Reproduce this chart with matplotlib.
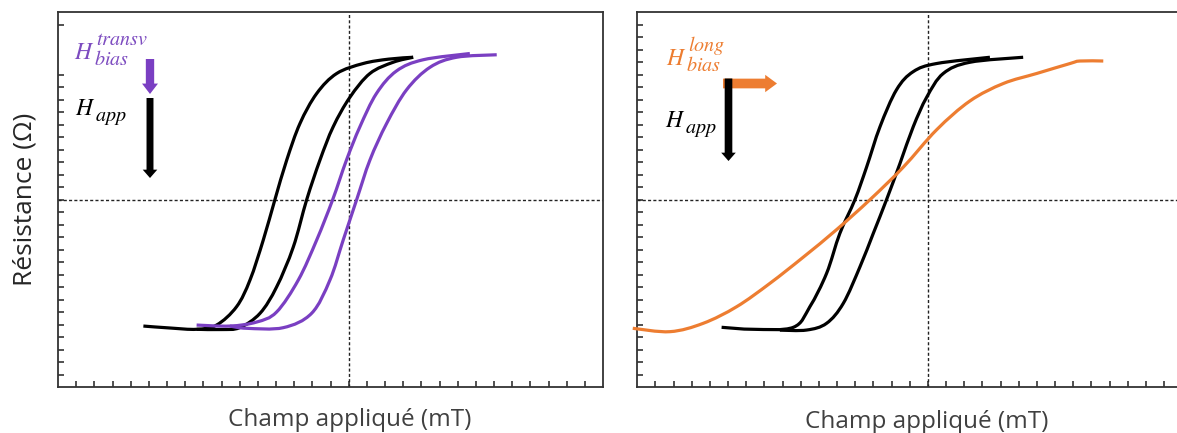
import matplotlib
matplotlib.use("Agg")
import matplotlib.pyplot as plt
from matplotlib.patches import FancyArrowPatch, PathPatch
from matplotlib.path import Path
import matplotlib.ticker as mticker
import numpy as np

# ---------------- data (axis units: 0..30 on both axes) ----------------
# Left panel: transverse bias
blk_left_a_x = [4.70, 6.2, 7.63, 8.73, 9.83, 10.57, 11.30, 11.94, 12.59, 13.32, 14.24, 15.34, 16.80, 18.2, 19.55]
blk_left_a_y = [4.88, 4.72, 4.62, 4.96, 6.43, 8.57, 11.77, 15.0, 18.17, 21.1, 23.5, 25.1, 25.9, 26.25, 26.4]
blk_left_b_x = [7.63, 9.0, 10.0, 11.12, 12.03, 12.95, 13.69, 14.42, 15.15, 16.07, 17.17, 18.45, 19.55]
blk_left_b_y = [4.62, 4.6, 4.75, 5.9, 8.0, 11.2, 15.0, 18.17, 20.84, 23.2, 25.1, 26.0, 26.4]
pur_left_a_x = [7.63, 9.46, 10.93, 12.03, 13.23, 14.24, 15.12, 15.88, 16.62, 17.53, 18.63, 20.1, 22.67]
pur_left_a_y = [4.96, 4.88, 5.2, 6.0, 8.57, 11.77, 15.0, 18.17, 20.84, 23.5, 25.3, 26.2, 26.7]
pur_left_b_x = [9.46, 10.38, 12.4, 13.96, 14.97, 15.7, 16.44, 17.17, 18.09, 19.19, 20.48, 21.94, 24.15]
pur_left_b_y = [4.88, 4.7, 4.75, 5.9, 8.57, 11.77, 15.0, 18.17, 21.1, 23.8, 25.6, 26.4, 26.6]

# Right panel: longitudinal bias
blk_right_a_x = [4.64, 6.39, 8.59, 9.50, 10.42, 11.15, 11.98, 12.62, 13.36, 14.27, 15.19, 16.48, 19.41]
blk_right_a_y = [4.78, 4.62, 4.78, 6.43, 9.1, 12.3, 15.0, 17.6, 20.84, 23.8, 25.25, 25.9, 26.4]
blk_right_b_x = [7.85, 9.32, 10.42, 11.34, 12.25, 12.99, 13.72, 14.46, 15.19, 15.93, 16.84, 18.31, 21.24]
blk_right_b_y = [4.55, 4.56, 5.1, 6.7, 9.6, 12.3, 15.0, 17.9, 20.84, 23.2, 25.1, 26.0, 26.4]
orange_x = [-0.25, 1.80, 3.63, 5.47, 7.30, 9.14, 10.97, 12.81, 14.64, 16.48, 18.31, 20.15, 21.98, 23.82, 24.37, 25.65]
orange_y = [4.70, 4.43, 5.1, 6.43, 8.3, 10.4, 12.6, 15.0, 17.6, 20.6, 22.9, 24.3, 25.1, 25.9, 26.1, 26.1]

x_ref = 16      # vertical dashed reference
y_ref = 15      # horizontal dashed reference
x_ticks = list(range(1, 30))
major_ticks = [5, 10, 15, 20, 25]
y_ticks_right = list(range(1, 30))
y_ticks_left = [t for t in range(1, 30) if t not in (26, 27, 28)]   # hidden behind the label

xlabel = "Champ appliqué (mT)"
ylabel = "Résistance (Ω)"

BLACK = "#000000"
PURPLE = "#7a3fc2"
PURPLE_TXT = "#7d4cc0"
ORANGE = "#ed7d31"

plt.rcParams["mathtext.fontset"] = "stix"

W, H = 1177, 433
fig = plt.figure(figsize=(W / 100, H / 100), dpi=100)

def fx(px):
    return px / W

def fy(py):
    return 1 - py / H

ax_top, ax_bot = 12.3, 387.0
axL = fig.add_axes([fx(58), fy(ax_bot), 545 / W, (ax_bot - ax_top) / H])
axR = fig.add_axes([fx(637.3), fy(ax_bot), 545 / W, (ax_bot - ax_top) / H])

for ax, yt in ((axL, y_ticks_left), (axR, y_ticks_right)):
    ax.set_xlim(0, 30)
    ax.set_ylim(0, 30)
    ax.set_xticks(x_ticks)
    ax.set_yticks(yt)
    ax.set_xticklabels([])
    ax.set_yticklabels([])
    ax.tick_params(axis="both", direction="in", length=4.3, width=1.1, color="#222222")
    for s in ax.spines.values():
        s.set_linewidth(1.3)
        s.set_color("#333333")
    ax.axvline(x_ref, color="#222222", lw=1.0, ls=(0, (2.2, 1.6)), zorder=1)
    ax.axhline(y_ref, color="#222222", lw=1.0, ls=(0, (2.2, 1.6)), zorder=1)
    ax.xaxis.set_minor_locator(mticker.FixedLocator(major_ticks))
    ax.tick_params(axis="x", which="minor", direction="in", length=6.0, width=1.1, color="#222222")
    ax.set_xlabel(xlabel, fontsize=17.5, family="Open Sans", color="#404040")

axL.xaxis.set_label_coords((350 - 58) / 545, (ax_bot - 408) / (ax_bot - ax_top))
axR.xaxis.set_label_coords((927 - 637.3) / 545, (ax_bot - 410) / (ax_bot - ax_top))
axR.spines["right"].set_visible(False)

axL.set_ylabel(ylabel, fontsize=19, family="Open Sans", color="#262626")
axL.yaxis.set_label_coords((37 - 58) / 545, 0.5)


def smooth_curve(ax, xs, ys, color, lw=2.3, zorder=3, clip=True):
    """Draw a smooth (Catmull-Rom -> cubic Bezier) curve through the data points."""
    P = np.column_stack([xs, ys]).astype(float)
    n = len(P)
    verts = [P[0]]
    codes = [Path.MOVETO]
    for i in range(n - 1):
        p0 = P[i - 1] if i > 0 else P[i]
        p1 = P[i]
        p2 = P[i + 1]
        p3 = P[i + 2] if i + 2 < n else P[i + 1]
        c1 = p1 + (p2 - p0) / 6.0
        c2 = p2 - (p3 - p1) / 6.0
        verts += [c1, c2, p2]
        codes += [Path.CURVE4] * 3
    patch = PathPatch(Path(verts, codes), facecolor="none", edgecolor=color, lw=lw,
                      capstyle="butt", joinstyle="round", zorder=zorder, clip_on=clip)
    ax.add_patch(patch)


smooth_curve(axL, blk_left_a_x, blk_left_a_y, BLACK)
smooth_curve(axL, blk_left_b_x, blk_left_b_y, BLACK)
smooth_curve(axL, pur_left_a_x, pur_left_a_y, PURPLE, zorder=4)
smooth_curve(axL, pur_left_b_x, pur_left_b_y, PURPLE, zorder=4)

smooth_curve(axR, blk_right_a_x, blk_right_a_y, BLACK)
smooth_curve(axR, blk_right_b_x, blk_right_b_y, BLACK)
smooth_curve(axR, orange_x, orange_y, ORANGE, zorder=4, clip=False)

# ---------------- annotations ----------------
HS = 17      # size of the "H"
SS = 14.5    # size of sub/superscripts

def symbol(x, y, sup, sub, color):
    fig.text(fx(x), fy(y), r"$H$", fontsize=HS, color=color, ha="left", va="baseline")
    if sup:
        fig.text(fx(x + 22), fy(y - 14), "$" + sup + "$", fontsize=SS, color=color,
                 ha="left", va="baseline")
    if sub:
        fig.text(fx(x + 20), fy(y + 6), "$" + sub + "$", fontsize=SS, color=color,
                 ha="left", va="baseline")

symbol(74, 59, "transv", "bias", PURPLE_TXT)
symbol(75, 115, None, "app", "black")
symbol(666, 65, "long", "bias", ORANGE)
symbol(665, 127, None, "app", "black")


def arrow(p0, p1, color, tail, hw, hl):
    a = FancyArrowPatch((fx(p0[0]), fy(p0[1])), (fx(p1[0]), fy(p1[1])),
                        transform=fig.transFigure,
                        arrowstyle=f"simple,head_length={hl},head_width={hw},tail_width={tail}",
                        color=color, mutation_scale=1, shrinkA=0, shrinkB=0, lw=0)
    fig.add_artist(a)

arrow((150, 59), (150, 94), PURPLE, 6.0, 11.5, 7.5)
arrow((150, 98), (150, 178), BLACK, 5.0, 10.5, 6.0)
arrow((723, 83.5), (777, 83.5), ORANGE, 7.0, 12.5, 8.5)
arrow((728.5, 78.5), (728.5, 161), BLACK, 5.5, 10.5, 6.0)

fig.savefig("out.png", dpi=100)
